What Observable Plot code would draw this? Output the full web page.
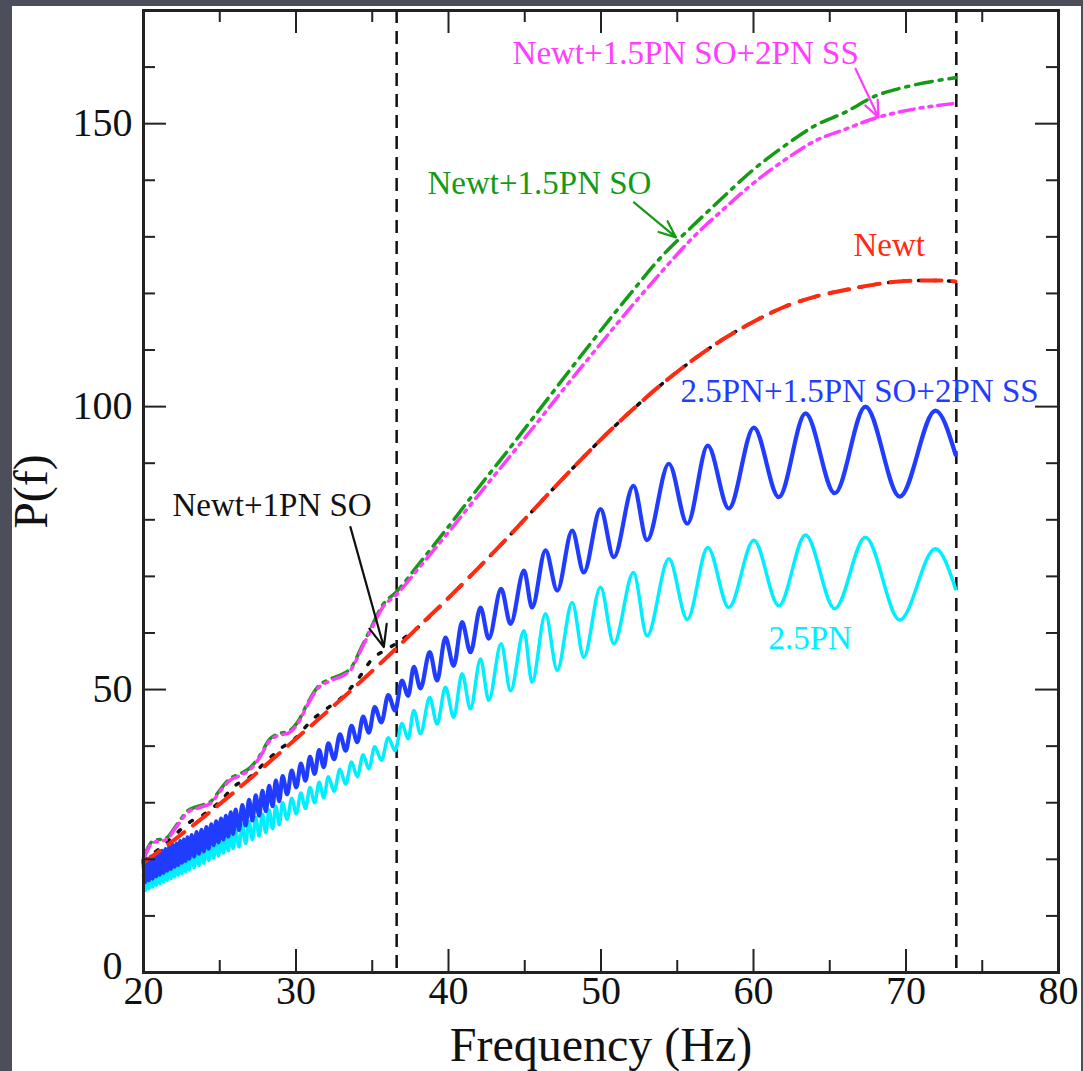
<!DOCTYPE html>
<html><head><meta charset="utf-8">
<script src="https://cdn.jsdelivr.net/npm/d3@7"></script>
<script src="https://cdn.jsdelivr.net/npm/@observablehq/plot@0.6"></script>
<style>
html,body{margin:0;padding:0;background:#4c4f5a;width:1083px;height:1071px;overflow:hidden}
#panel{position:absolute;left:12px;top:6px;width:1069px;height:1065px;background:#fff}
#chart{position:absolute;left:0;top:0}
</style></head><body><div id="panel"></div><div id="chart"></div>
<script>
// ---- data (frequency Hz, P(f)) ----
const pn25Full = [[20.00,19.8],[20.12,16.0],[20.24,20.1],[20.36,16.3],[20.48,20.5],[20.60,16.6],[20.72,20.8],[20.84,17.0],[20.96,21.1],[21.08,17.3],[21.20,21.5],[21.32,17.6],[21.44,21.8],[21.56,18.0],[21.68,22.2],[21.80,18.3],[21.92,22.5],[22.04,18.7],[22.16,22.8],[22.28,19.0],[22.40,23.2],[22.52,19.4],[22.64,23.5],[22.76,19.7],[22.88,23.9],[23.00,20.1],
[23.16,24.3],[23.32,20.5],[23.48,24.8],[23.64,21.0],[23.80,25.2],[23.96,21.4],[24.12,25.7],[24.28,21.9],[24.44,26.2],[24.60,22.5],[24.76,26.7],[24.92,23.0],[25.08,27.2],[25.24,23.5],[25.40,27.7],[25.56,24.0],[25.72,28.3],[25.88,24.5],[26.04,28.8],
[26.26,25.2],[26.48,29.6],[26.70,26.0],[26.92,30.5],[27.14,26.9],[27.36,31.3],[27.58,27.7],[27.80,32.1],[28.02,28.5],[28.24,33.0],[28.46,29.4],[28.68,33.9],[28.90,30.3],[29.12,34.7],
[29.42,31.5],[29.72,35.7],[30.02,32.7],[30.32,36.9],[30.62,33.9],[30.92,38.1],[31.22,35.1],[31.52,39.3],[31.82,36.3],[32.12,40.5],
[32.50,37.7],[32.88,42.1],[33.26,39.2],[33.64,43.6],[34.02,40.7],[34.40,45.2],[34.78,42.4],[35.16,46.9],
[35.60,44.2],[36.05,49.0],[36.50,46.3],[36.95,51.6],[37.35,48.9],[37.73,54.0],[38.16,50.2],[38.77,56.6],[39.25,51.6],[39.80,59.2],[40.34,54.2],[40.89,61.9],[41.44,56.6],[42.10,64.5],[42.64,59.0],[43.45,67.8],[44.07,61.6],[44.95,71.0],[45.48,64.5],[46.36,74.6],[47.13,67.5],[48.11,78.1],[48.87,70.7],[49.97,81.9],[50.84,73.4],[52.13,86.0],[53.02,76.4],[54.45,89.9],[55.66,79.3],[57.00,93.1],[58.38,82.0],[60.02,96.3],[61.66,84.0],[63.41,98.8],[65.33,84.7],[67.34,100.0],[69.59,84.1],[71.93,99.3],[73.25,91.5]];

const pn25 = [[20.00,17.3],[20.12,14.5],[20.24,17.6],[20.36,14.8],[20.48,17.9],[20.60,15.1],[20.72,18.2],[20.84,15.4],[20.96,18.5],[21.08,15.7],[21.20,18.8],[21.32,16.0],[21.44,19.1],[21.56,16.3],[21.68,19.4],[21.80,16.6],[21.92,19.7],[22.04,16.9],[22.16,20.0],[22.28,17.2],[22.40,20.3],[22.52,17.5],[22.64,20.6],[22.76,17.8],[22.88,20.9],[23.00,18.1],
[23.16,21.3],[23.32,18.5],[23.48,21.7],[23.64,18.9],[23.80,22.1],[23.96,19.3],[24.12,22.6],[24.28,19.8],[24.44,23.0],[24.60,20.2],[24.76,23.4],[24.92,20.6],[25.08,23.9],[25.24,21.1],[25.40,24.3],[25.56,21.5],[25.72,24.7],[25.88,21.9],[26.04,25.2],
[26.26,22.2],[26.48,26.1],[26.70,22.8],[26.92,26.7],[27.14,23.5],[27.36,27.4],[27.58,24.1],[27.80,28.0],[28.02,24.7],[28.24,28.7],[28.46,25.4],[28.68,29.4],[28.90,26.1],[29.12,30.0],
[29.42,27.1],[29.72,30.8],[30.02,28.0],[30.32,31.7],[30.62,29.0],[30.92,32.7],[31.22,30.0],[31.52,33.6],[31.82,30.9],[32.12,34.6],
[32.50,32.0],[32.88,35.9],[33.26,33.3],[33.64,37.2],[34.02,34.6],[34.40,38.5],[34.78,36.0],[35.16,39.9],
[35.60,37.5],[36.05,41.5],[36.50,39.2],[36.95,44.0],[37.35,41.3],[37.73,46.3],[38.16,42.2],[38.77,48.6],[39.25,43.9],[39.80,50.4],[40.34,45.1],[40.89,52.8],[41.44,46.6],[42.10,55.4],[42.64,48.1],[43.45,58.1],[44.07,49.8],[44.95,60.4],[45.48,51.3],[46.36,63.4],[47.13,53.4],[48.11,65.4],[48.87,55.7],[49.97,68.1],[50.84,58.1],[52.13,70.7],[53.02,59.5],[54.45,73.1],[55.66,62.4],[57.00,75.1],[58.38,64.5],[60.02,76.4],[61.66,64.8],[63.41,77.3],[65.33,64.3],[67.34,76.9],[69.59,62.3],[71.93,74.9],[73.25,67.8]];

const newt15SO = [[20.0,20.3],[20.6,23.2],[21.5,23.8],[22.2,26.2],[22.9,28.6],[23.6,29.4],[24.4,30.2],[25.0,32.2],[25.6,34.1],[26.4,35.2],[27.0,36.2],[27.6,38.2],[28.3,41.3],[29.0,42.3],[29.5,42.6],[30.1,44.2],[30.8,47.8],[31.4,50.4],[32.3,51.9],[33.1,52.8],[33.6,53.8],[34.3,57.5],[34.9,60.8],[35.7,65.0],[36.6,67.3],[38,72.0],[40,78.8],[42,85.8],[44,92.6],[46,99.6],[48,106.6],[50,113.5],[52,120.2],[54,126.6],[56,131.9],[58,137.0],[60,141.9],[62,146.0],[64,149.6],[66,152.0],[68,154.9],[70,156.5],[72,157.6],[73.25,158.1]];

const newt15SO2SS = [[20.0,20.0],[20.6,22.9],[21.5,23.5],[22.2,25.9],[22.9,28.3],[23.6,29.1],[24.4,29.9],[25.0,31.9],[25.6,33.8],[26.4,34.9],[27.0,35.9],[27.6,37.9],[28.3,41.0],[29.0,42.0],[29.5,42.3],[30.1,43.9],[30.8,47.5],[31.4,50.1],[32.3,51.6],[33.1,52.5],[33.6,53.5],[34.3,57.2],[34.9,60.5],[35.7,64.6],[36.6,66.8],[38,71.3],[40,77.8],[42,84.5],[44,91.1],[46,97.8],[48,104.6],[50,111.2],[52,117.7],[54,123.9],[56,129.8],[58,134.8],[60,139.5],[62,143.5],[64,146.9],[66,149.0],[68,151.0],[70,152.3],[72,153.2],[73.25,153.6]];

const newt = [[20,19.4],[22,23.4],[24,27.6],[26,32.0],[28,36.6],[30,41.3],[32,46.0],[34,50.8],[36,55.8],[38,61.0],[40,66.2],[42,71.6],[44,77.2],[46,83.0],[48,88.7],[50,94.2],[52,99.3],[54,104.0],[56,108.2],[58,111.9],[60,115.0],[62,117.6],[64,119.4],[66,120.6],[68,121.6],[70,122.2],[72,122.3],[73.25,122.1]];

const newt1SO = [[20,19.8],[21,21.8],[22,24.2],[23,26.5],[24,28.0],[25,30.2],[26,33.0],[27,34.6],[28,37.2],[29,39.6],[30,41.5],[31,44.5],[32,46.6],[33,48.6],[34,51.6],[35,55.4],[36,57.2],[36.6,58.2],[38,61.0],[40,66.2],[42,71.6],[44,77.2],[46,83.0],[48,88.7],[50,94.2],[52,99.3],[54,104.0],[56,108.2],[58,111.9],[60,115.0],[62,117.6],[64,119.4],[66,120.6],[68,121.6],[70,122.2],[72,122.3],[73.25,122.1]];

const boundaries = [36.6, 73.3];

const xMajor = [20,30,40,50,60,70,80];
const xMinor = [25,35,45,55,65,75];
const yMajor = [50,100,150];
const yZero = [0];
const yMinor = [10,20,30,40,60,70,80,90,110,120,130,140,160];

const labelText = ["Newt+1.5PN SO+2PN SS","Newt+1.5PN SO","Newt","2.5PN+1.5PN SO+2PN SS","2.5PN","Newt+1PN SO"];
const labelF    = [44.2, 38.62, 66.56, 55.21, 60.98, 21.9];
const labelP    = [162.5, 139.4, 128.4, 102.6, 59.0, 82.5];

const arrowFrom = [[66.69,159.7],[52.16,136.1],[33.57,78.7]];
const arrowTo   = [[68.2,151.1],[54.92,129.9],[35.76,57.5]];

// ---- styles ----
const C = {mag:"#ff3cff", green:"#159a15", red:"#ff2a10", blue:"#1f3cff", cyan:"#00efff", black:"#111"};
const labelColors = [C.mag, C.green, C.red, C.blue, C.cyan, C.black];
const arrowColors = [C.mag, C.green, C.black];
const serif = "'Liberation Serif','Times New Roman',serif";

const W=1083, H=1071, mL=143, mR=25, mT=10, mB=99;
const fw = W-mL-mR, fh = H-mT-mB;
const xy = {x: d=>d[0], y: d=>d[1]};
const tk = {stroke:"#222", strokeWidth:2};
const yLab = {tickSize:0, tickPadding:11, fontSize:40, fill:"#111", fontFamily:serif, tickFormat:d=>String(d), label:null};

const labels = labelText.map((t,i)=>({t, f:labelF[i], P:labelP[i], c:labelColors[i]}));
const arrows = arrowFrom.map((a,i)=>({x1:a[0], y1:a[1], x2:arrowTo[i][0], y2:arrowTo[i][1], c:arrowColors[i]}));

const plot = Plot.plot({
  width: W, height: H, marginLeft: mL, marginRight: mR, marginTop: mT, marginBottom: mB,
  x: {domain:[20,80], label:null},
  y: {domain:[0,170], label:null},
  color: {type:"identity"},
  style: {background:"transparent", fontFamily: serif, overflow:"visible"},
  marks: [
    Plot.ruleX(boundaries, {x:d=>d, stroke:"#111", strokeWidth:2.5, strokeDasharray:"13,8"}),
    Plot.line(pn25, {...xy, stroke:C.cyan, strokeWidth:3.5, curve:"monotone-x"}),
    Plot.line(pn25Full, {...xy, stroke:C.blue, strokeWidth:4.2, curve:"monotone-x"}),
    Plot.line(newt1SO, {...xy, stroke:C.black, strokeWidth:3.5, strokeDasharray:"3,12", strokeLinecap:"round", curve:"monotone-x"}),
    Plot.line(newt, {...xy, stroke:C.red, strokeWidth:4, strokeDasharray:"20,11", curve:"monotone-x"}),
    Plot.line(newt15SO, {...xy, stroke:C.green, strokeWidth:3.5, strokeDasharray:"17,7,3,7", curve:"monotone-x"}),
    Plot.line(newt15SO2SS, {...xy, stroke:C.mag, strokeWidth:3.5, strokeDasharray:"15,6,3,6,3,6", curve:"monotone-x"}),
    // inward ticks on all four sides
    Plot.ruleX(xMajor, {x:d=>d, ...tk, insetTop: fh-23}),
    Plot.ruleX(xMinor, {x:d=>d, ...tk, insetTop: fh-12}),
    Plot.ruleX(xMajor, {x:d=>d, ...tk, insetBottom: fh-23}),
    Plot.ruleX(xMinor, {x:d=>d, ...tk, insetBottom: fh-12}),
    Plot.ruleY([...yZero, ...yMajor], {y:d=>d, ...tk, insetRight: fw-23}),
    Plot.ruleY(yMinor, {y:d=>d, ...tk, insetRight: fw-12}),
    Plot.ruleY([...yZero, ...yMajor], {y:d=>d, ...tk, insetLeft: fw-23}),
    Plot.ruleY(yMinor, {y:d=>d, ...tk, insetLeft: fw-12}),
    Plot.frame({stroke:"#222", strokeWidth:3}),
    Plot.axisX(xMajor, {tickSize:0, tickPadding:3, fontSize:40, fill:"#111", fontFamily:serif, tickFormat:d=>String(d), label:null}),
    Plot.axisY(yMajor, yLab),
    Plot.axisY(yZero, {...yLab, dy:-6, dx:-10}),
    Plot.text(["Frequency (Hz)"], {frameAnchor:"bottom", dy:73, fontSize:48, fill:"#111", fontFamily:serif, textAnchor:"middle", lineAnchor:"middle"}),
    Plot.text(["P(f)"], {frameAnchor:"left", dx:-112, rotate:-90, fontSize:48, fill:"#111", fontFamily:serif, textAnchor:"middle", lineAnchor:"middle"}),
    Plot.text(labels, {x:"f", y:"P", text:"t", fill:"c", fontSize:33, fontFamily:serif, textAnchor:"start", lineAnchor:"middle"}),
    Plot.arrow(arrows, {x1:"x1", y1:"y1", x2:"x2", y2:"y2", stroke:"c", strokeWidth:2.2, headLength:16, headAngle:45})
  ]
});
document.getElementById("chart").append(plot);
</script>
</body></html>
